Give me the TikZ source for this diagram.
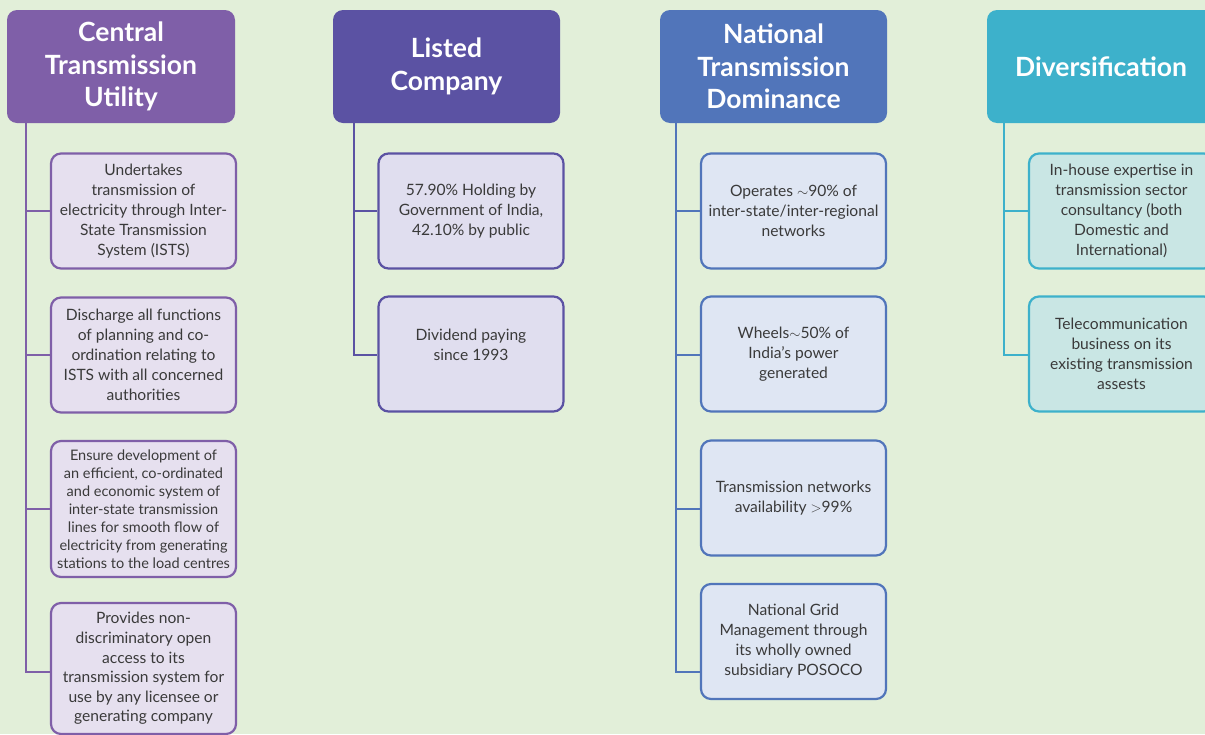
\documentclass[tikz,border=0pt]{standalone}
\usepackage{fontspec}
\setmainfont{Lato}
\definecolor{bg}{HTML}{E2EFD9}
\definecolor{txt}{HTML}{3A3A3A}
\definecolor{cA}{HTML}{7F5FA8}
\definecolor{cB}{HTML}{5B52A3}
\definecolor{cC}{HTML}{5175BA}
\definecolor{cD}{HTML}{3DB1CB}
\definecolor{fA}{HTML}{E6E0EF}
\definecolor{fB}{HTML}{E0DEEF}
\definecolor{fC}{HTML}{DFE6F3}
\definecolor{fD}{HTML}{C9E6E4}
\tikzset{
  hdr/.style={rounded corners=10pt, minimum width=228pt, minimum height=113pt, inner sep=0pt,
    align=center, text=white, font=\fontsize{26.5}{32.5}\selectfont\bfseries},
  itembox/.style={rounded corners=10pt, line width=2.2pt, minimum width=185pt, minimum height=115pt,
    inner sep=0pt, align=center, text=txt, font=\fontsize{15.6}{20}\selectfont},
  conn/.style={line width=2.5pt}
}
\begin{document}
\begin{tikzpicture}[x=1pt,y=-1pt]
\fill[bg] (0,0) rectangle (1205,734);
\useasboundingbox (0,0) rectangle (1205,734);
\clip (0,0) rectangle (1205,734);
\coordinate (y1) at (0,211);
\coordinate (y2) at (0,355);
\coordinate (y3) at (0,509);
\coordinate (y4) at (0,672);
% Column 1
\node[hdr, fill=cA] (h1) at (121,66.5) {Central\\Transmission\\Utility};
\coordinate (c1) at (26,123);
\node[itembox, draw=cA, fill=fA] (a1) at (143.5,211) {Undertakes\\transmission of\\electricity through Inter-\\State Transmission\\System (ISTS)};
\node[itembox, draw=cA, fill=fA] (a2) at (143.5,355) {Discharge all functions\\of planning and co-\\ordination relating to\\ISTS with all concerned\\authorities};
\node[itembox, draw=cA, fill=fA, minimum height=136pt, font=\fontsize{14.5}{18}\selectfont] (a3) at (143.5,509) {Ensure development of\\an efficient, co-ordinated\\and economic system of\\inter-state transmission\\lines for smooth flow of\\electricity from generating\\stations to the load centres};
\node[itembox, draw=cA, fill=fA, minimum height=131pt, font=\fontsize{15.6}{19.6}\selectfont] (a4) at (143.5,668.5) {Provides non-\\discriminatory open\\access to its\\transmission system for\\use by any licensee or\\generating company};
\draw[conn, cA] (c1) |- (a4.west |- y4);
\draw[conn, cA] (c1) |- (a1.west |- y1);
\draw[conn, cA] (c1) |- (a2.west |- y2);
\draw[conn, cA] (c1) |- (a3.west |- y3);
% Column 2
\node[hdr, fill=cB, minimum width=227pt] (h2) at (446.5,66.5) {Listed\\Company};
\coordinate (c2) at (354,123);
\node[itembox, draw=cB, fill=fB] (b1) at (471,211) {57.90\% Holding by\\Government of India,\\42.10\% by public};
\node[itembox, draw=cB, fill=fB] (b2) at (471,354) {Dividend paying\\since 1993\\[-8pt]\strut};
\draw[conn, cB] (c2) |- (b2.west |- y2);
\draw[conn, cB] (c2) |- (b1.west |- y1);
% Column 3
\node[hdr, fill=cC, minimum width=227pt] (h3) at (773.5,66.5) {National\\Transmission\\Dominance};
\coordinate (c3) at (676,123);
\node[itembox, draw=cC, fill=fC] (d1) at (793.5,211) {Operates ${\sim}$90\% of\\inter-state/inter-regional\\networks};
\node[itembox, draw=cC, fill=fC] (d2) at (793.5,354) {Wheels${\sim}$50\% of\\India's power\\generated};
\node[itembox, draw=cC, fill=fC] (d3) at (793.5,498) {Transmission networks\\availability ${>}$99\%};
\node[itembox, draw=cC, fill=fC] (d4) at (793.5,641.5) {National Grid\\Management through\\its wholly owned\\subsidiary POSOCO};
\draw[conn, cC] (c3) |- (d4.west |- y4);
\draw[conn, cC] (c3) |- (d1.west |- y1);
\draw[conn, cC] (c3) |- (d2.west |- y2);
\draw[conn, cC] (c3) |- (d3.west |- y3);
% Column 4
\node[hdr, fill=cD] (h4) at (1101,66.5) {Diversification};
\coordinate (c4) at (1004,123);
\node[itembox, draw=cD, fill=fD] (e1) at (1121.5,211) {In-house expertise in\\transmission sector\\consultancy (both\\Domestic and\\International)};
\node[itembox, draw=cD, fill=fD] (e2) at (1121.5,354) {Telecommunication\\business on its\\existing transmission\\assests};
\draw[conn, cD] (c4) |- (e2.west |- y2);
\draw[conn, cD] (c4) |- (e1.west |- y1);
\end{tikzpicture}
\end{document}
